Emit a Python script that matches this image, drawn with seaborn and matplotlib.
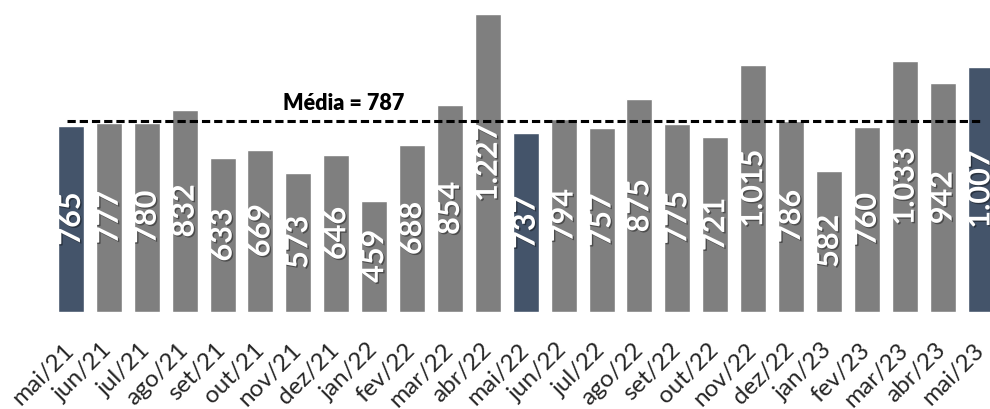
import seaborn as sns
import pandas as pd
import numpy as np
import matplotlib.pyplot as plt
import matplotlib.patheffects as pe

# dados do grafico
meses = ['mai/21', 'jun/21', 'jul/21', 'ago/21', 'set/21', 'out/21', 'nov/21', 'dez/21',
         'jan/22', 'fev/22', 'mar/22', 'abr/22', 'mai/22', 'jun/22', 'jul/22', 'ago/22',
         'set/22', 'out/22', 'nov/22', 'dez/22', 'jan/23', 'fev/23', 'mar/23', 'abr/23', 'mai/23']
valores = [765, 777, 780, 832, 633, 669, 573, 646, 459, 688, 854, 1227, 737, 794, 757, 875,
           775, 721, 1015, 786, 582, 760, 1033, 942, 1007]
media = 787
destaques = ['mai/21', 'mai/22', 'mai/23']

cor_cinza = '#7f7f7f'
cor_destaque = '#44546a'

df = pd.DataFrame({'mes': meses, 'valor': valores})
cores = [cor_destaque if m in destaques else cor_cinza for m in meses]

sns.set_style('white')
plt.rcParams['font.family'] = ['Lato', 'DejaVu Sans']

fig = plt.figure(figsize=(9.9, 4.09), dpi=100)
ax = fig.add_axes([0, 0.2372, 1, 0.763])

sns.barplot(data=df, x='mes', y='valor', hue='mes', palette=cores, legend=False,
            width=0.686, saturation=1, ax=ax)

# rotulos dos valores dentro das barras
sombra = [pe.withSimplePatchShadow(offset=(1, -1), shadow_rgbFace='black', alpha=0.4)]
for i, v in enumerate(valores):
    txt = f'{v:,}'.replace(',', '.')
    ax.text(i, v / 2, txt, rotation=90, ha='center', va='center', color='white',
            fontsize=22, fontweight='bold', path_effects=sombra)

# linha da media
ax.plot([-0.1, 24.05], [media, media], color='black', linestyle=(0, (2.7, 1.3)), linewidth=2.2)
ax.text(7.2, media + 30, f'Média = {media}', ha='center', va='bottom', fontsize=15.5,
        fontweight='heavy', color='black')

ax.set_xlim(-1.873, 24.25)
ax.set_ylim(0, 1285)
ax.set_xlabel('')
ax.set_ylabel('')
ax.set_yticks([])
for s in ax.spines.values():
    s.set_visible(False)
ax.tick_params(axis='x', length=0, pad=25)
plt.setp(ax.get_xticklabels(), rotation=45, ha='right', va='center', rotation_mode='anchor',
         fontsize=17.5)

fig.savefig('out.png', dpi=100)
plt.close()
